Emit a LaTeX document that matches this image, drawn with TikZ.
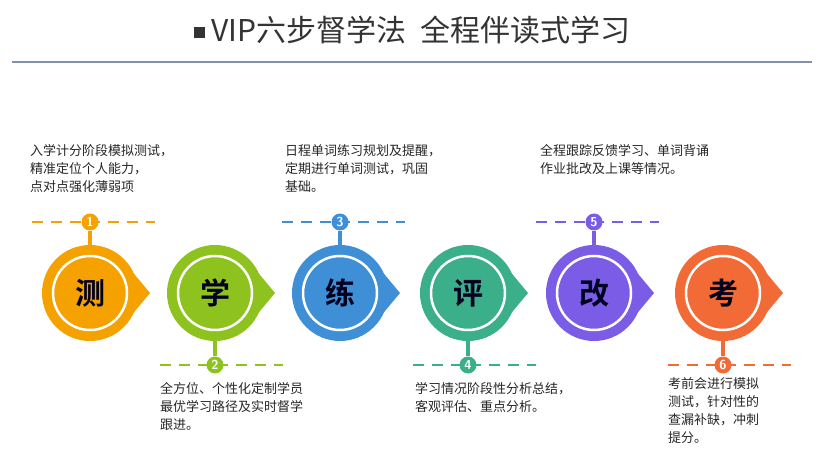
\documentclass[tikz,border=0pt]{standalone}
\usepackage{fontspec}
\newfontfamily\cjk{Noto Sans CJK SC}
\newfontfamily\cjkb{Noto Sans CJK SC Bold}
\definecolor{rulec}{HTML}{8090AA}
\begin{document}
\begin{tikzpicture}[x=1pt,y=-1pt,
  desc/.style={anchor=north west,align=left,font=\cjk\fontsize{13}{18}\selectfont,text=black!85,inner sep=0pt},
  numc/.style={circle,minimum size=17pt,inner sep=0pt,font=\sffamily\bfseries\fontsize{13}{13}\selectfont,text=white}]
\useasboundingbox (0,0) rectangle (829,454);
\node[font=\cjk\fontsize{30}{30}\selectfont,text=black!80] (title) at (412,30) {\raisebox{3pt}{\rule{11pt}{11pt}}\ VIP六步督学法\ \ 全程伴读式学习};
\draw[rulec,line width=1.5pt] (12,62) -- (812,62);
\foreach \i/\x/\c/\ch/\up in {1/90/F5A100/测/1,2/215/8DC21F/学/0,3/340/3E8FD6/练/1,4/468/3BAF8A/评/0,5/594/7B5CE6/改/1,6/723/F26B36/考/0}{
  \definecolor{cc}{HTML}{\c}
  \fill[cc] (\x+40,293-24) -- (\x+60,293) -- (\x+40,293+24) -- cycle;
  \node[circle,fill=cc,minimum size=96pt,inner sep=0pt] (c\i) at (\x,293) {};
  \node[circle,draw=white,line width=2.5pt,minimum size=74pt,inner sep=0pt,font=\cjkb\fontsize{30}{30}\selectfont,text=black!80!blue!60!black] (t\i) at (\x,293) {\ch};
  \ifnum\up=1
    \draw[cc,dash pattern=on 11pt off 8pt,line width=2pt] (\x-58,222) -- (\x+65,222);
    \node[numc,fill=cc] (n\i) at (\x,222) {\i};
    \draw[cc,line width=4pt] (n\i.south) -- (c\i.north);
  \else
    \draw[cc,dash pattern=on 11pt off 8pt,line width=2pt] (\x-55,365) -- (\x+68,365);
    \node[numc,fill=cc] (n\i) at (\x,365) {\i};
    \draw[cc,line width=4pt] (n\i.north) -- (c\i.south);
  \fi
}
\node[desc] (d1) at (30,144) {入学计分阶段模拟测试，\\精准定位个人能力，\\点对点强化薄弱项};
\node[desc] (d3) at (285,144) {日程单词练习规划及提醒，\\定期进行单词测试，巩固\\基础。};
\node[desc] (d5) at (540,144) {全程跟踪反馈学习、单词背诵\\作业批改及上课等情况。};
\node[desc] (d2) at (160,382) {全方位、个性化定制学员\\最优学习路径及实时督学\\跟进。};
\node[desc] (d4) at (415,382) {学习情况阶段性分析总结，\\客观评估、重点分析。};
\node[desc] (d6) at (668,377) {考前会进行模拟\\测试，针对性的\\查漏补缺，冲刺\\提分。};
\end{tikzpicture}
\end{document}
